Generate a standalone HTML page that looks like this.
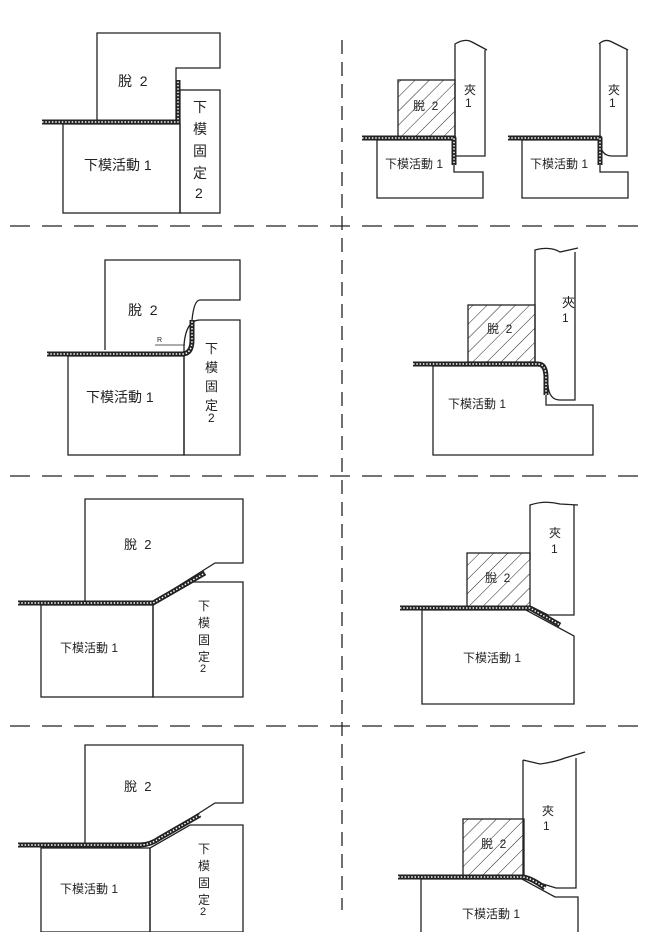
<!DOCTYPE html>
<html><head><meta charset="utf-8"><style>
html,body{margin:0;padding:0;background:#fff}
svg{display:block}
text{font-family:"Liberation Sans","Noto Sans CJK TC",sans-serif;fill:#222}
</style></head><body>
<svg width="662" height="932" viewBox="0 0 662 932" xmlns="http://www.w3.org/2000/svg">
<defs>
<pattern id="h" width="10" height="10" patternUnits="userSpaceOnUse" patternTransform="rotate(45)">
<line x1="0" y1="0" x2="0" y2="10" stroke="#222" stroke-width="1"/></pattern>
</defs>
<g fill="none" stroke="#222" stroke-width="1.3">
<g stroke-dasharray="20,12">
<line x1="10" y1="226" x2="640" y2="226"/>
<line x1="10" y1="476" x2="640" y2="476"/>
<line x1="10" y1="726" x2="640" y2="726"/>
<line x1="342" y1="40" x2="342" y2="910" stroke-dasharray="14,8"/>
</g>
<polygon points="97,33 220,33 220,68 176,68 176,122 97,122" fill="#fff"/>
<rect x="180" y="90" width="40" height="123"/>
<rect x="63" y="124" width="117" height="89"/>
<path d="M455,156 V44 Q465,38 472,42 L487,50 M485,50 V156 H455"/>
<rect x="398" y="80" width="57" height="58" fill="url(#h)"/>
<path d="M377,140 H454 V172 H483 V198 H377 Z"/>
<path d="M599,44 Q605,38 612,42 L628,50 M627,50 V156 H612 Q600,156 600,140 V44"/>
<path d="M522,140 H600 V172 H628 V198 H522 Z"/>
<path d="M105,350 V260 H240 V300 H200 Q194,300 192,320"/>
<path d="M184,455 V345 Q186,320 200,320 H240 V455 Z"/>
<rect x="68" y="356" width="116" height="99"/>
<line x1="155" y1="345" x2="185" y2="345" stroke-width="0.8"/>
<path d="M535,362 V250 Q550,246 560,252 L578,248 M575,252 V400 H560 Q549,400 548,385"/>
<rect x="468" y="305" width="67" height="57" fill="url(#h)"/>
<path d="M433,366 H542 Q546,366 546,380 V405 H593 V455 H433 Z"/>
<path d="M85,603 V499 H243 V563 H215 L153,602"/>
<polygon points="153,605 193,582 243,582 243,697 153,697"/>
<rect x="41" y="605" width="112" height="92"/>
<path d="M530,560 V505 Q545,500 560,504 L578,505 M574,505 V615 H548 L532,607"/>
<rect x="467" y="553" width="63" height="54" fill="url(#h)"/>
<polygon points="422,610 526,610 574,636 574,704 422,704"/>
<path d="M85,845 V745 H243 V803 H215 L160,838"/>
<polygon points="150,932 150,848 190,825 243,825 243,932"/>
<rect x="41" y="848" width="109" height="84" stroke-width="1.3"/>
<path d="M523,760 L540,764 Q555,762 565,758 L585,752 M576,758 V888 H556 L530,880 M523,760 V876"/>
<rect x="463" y="819" width="61" height="57" fill="url(#h)"/>
<path d="M421,932 V879 H522 L555,897 H578 V932"/>
</g>
<g fill="none" stroke-linejoin="round">
<g stroke="#222" stroke-width="5">
<path d="M42,122 H178 V80"/>
<path d="M362,138 H454 V165"/>
<path d="M508,138 H600 V165"/>
<path d="M47,354 H182 Q192,354 192,340 V320"/>
<path d="M413,364 H538 Q546,364 546,378 V395"/>
<path d="M18,603 H153 L205,573"/>
<path d="M400,608 H530 L560,625"/>
<path d="M18,845 H140 Q150,845 160,838 L200,815"/>
<path d="M398,877 H522 Q530,877 545,888"/>
</g>
<g stroke="#fff" stroke-width="1.5" stroke-dasharray="1.5,1.8">
<path d="M42,122 H178 V80"/>
<path d="M362,138 H454 V165"/>
<path d="M508,138 H600 V165"/>
<path d="M47,354 H182 Q192,354 192,340 V320"/>
<path d="M413,364 H538 Q546,364 546,378 V395"/>
<path d="M18,603 H153 L205,573"/>
<path d="M400,608 H530 L560,625"/>
<path d="M18,845 H140 Q150,845 160,838 L200,815"/>
<path d="M398,877 H522 Q530,877 545,888"/>
</g>
</g>
<g font-size="14">
<text x="118" y="86">脫 &#160;2</text>
<text x="84" y="170">下模活動 1</text>
<text x="193" y="112">下</text><text x="193" y="134">模</text><text x="193" y="156">固</text><text x="193" y="178">定</text><text x="195" y="198">2</text>
<text x="128" y="315">脫 &#160;2</text>
<text x="86" y="402">下模活動 1</text>
<text x="205" y="353" font-size="13">下</text><text x="205" y="372" font-size="13">模</text><text x="205" y="391" font-size="13">固</text><text x="205" y="410" font-size="13">定</text><text x="208" y="422" font-size="12">2</text>
<text x="124" y="549" font-size="13">脫 &#160;2</text>
<text x="60" y="652" font-size="12">下模活動 1</text>
<text x="198" y="610" font-size="12">下</text><text x="198" y="627" font-size="12">模</text><text x="198" y="644" font-size="12">固</text><text x="198" y="661" font-size="12">定</text><text x="200" y="672" font-size="11">2</text>
<text x="124" y="791" font-size="13">脫 &#160;2</text>
<text x="60" y="893" font-size="12">下模活動 1</text>
<text x="198" y="853" font-size="12">下</text><text x="198" y="870" font-size="12">模</text><text x="198" y="887" font-size="12">固</text><text x="198" y="904" font-size="12">定</text><text x="200" y="915" font-size="11">2</text>
</g>
<g font-size="12">
<text x="413" y="110">脫 &#160;2</text>
<text x="464" y="94">夾</text><text x="465" y="107">1</text>
<text x="385" y="168">下模活動 1</text>
<text x="608" y="94">夾</text><text x="609" y="107">1</text>
<text x="530" y="168">下模活動 1</text>
<text x="487" y="333">脫 &#160;2</text>
<text x="562" y="307" font-size="13">夾</text><text x="562" y="322">1</text>
<text x="448" y="408">下模活動 1</text>
<text x="485" y="582">脫 &#160;2</text>
<text x="549" y="537">夾</text><text x="551" y="553">1</text>
<text x="463" y="662">下模活動 1</text>
<text x="481" y="848">脫 &#160;2</text>
<text x="542" y="815">夾</text><text x="543" y="830">1</text>
<text x="462" y="918">下模活動 1</text>
<text x="157" y="342" font-size="7">R</text>
</g>
</svg>
</body></html>
